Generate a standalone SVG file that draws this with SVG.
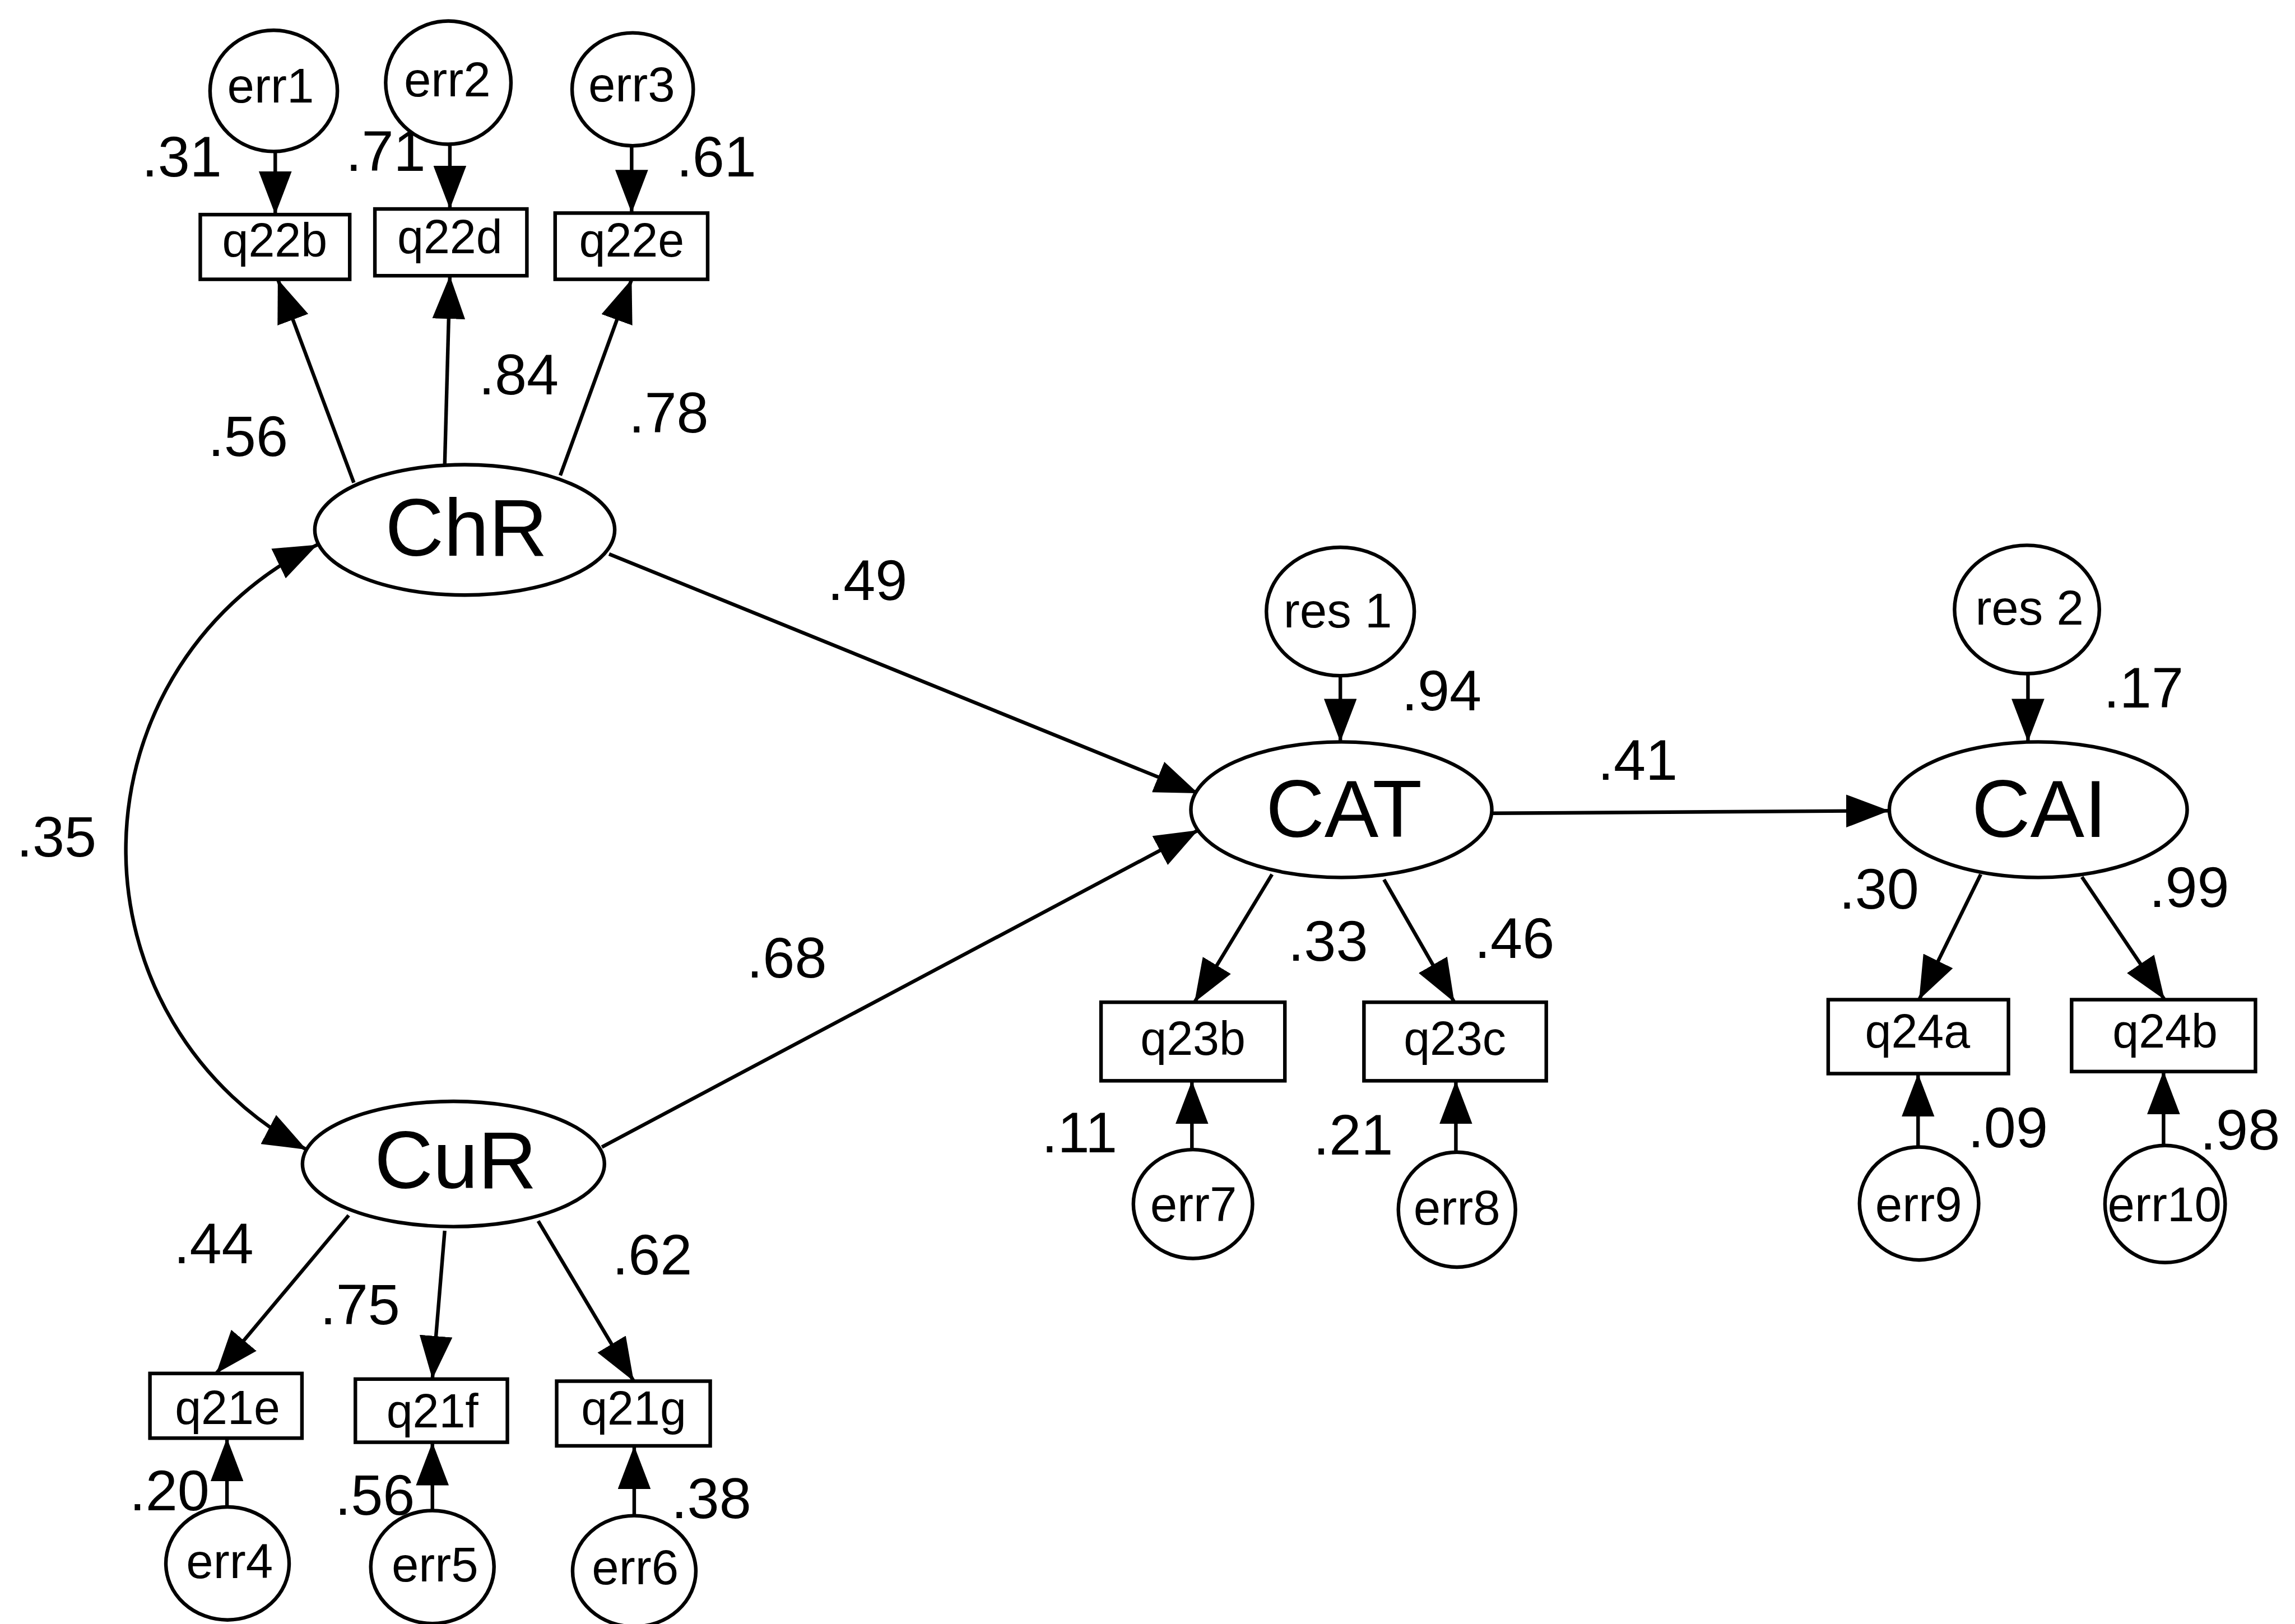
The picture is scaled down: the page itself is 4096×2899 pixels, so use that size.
<svg xmlns="http://www.w3.org/2000/svg" width="4096" height="2899" viewBox="0 0 4096 2899">
<style>
.n{fill:#fff;stroke:#000;stroke-width:7}
.c{fill:none;stroke:#000;stroke-width:7;marker-end:url(#ah)}
.t{font-family:"Liberation Sans",Arial,sans-serif;fill:#000;text-anchor:middle}
.lat{font-size:158px}
.err{font-size:95px}
.box{font-size:92px}
.lab{font-size:112px}
</style>
<defs>
<marker id="ah" markerUnits="userSpaceOnUse" viewBox="0 0 84 64" markerWidth="84" markerHeight="64" refX="84" refY="32" orient="auto-start-reverse">
<path d="M0,0 L84,32 L0,64 z" fill="#000"/>
</marker>
</defs>
<rect width="4096" height="2899" fill="#fff"/>
<g transform="scale(0.91654)">
<g id="connectors">
<line class="c" x1="536" y1="295" x2="536" y2="418"/>
<line class="c" x1="876" y1="281" x2="876" y2="407"/>
<line class="c" x1="1230" y1="281" x2="1230" y2="415"/>
<line class="c" x1="689" y1="940" x2="541" y2="544"/>
<line class="c" x1="866" y1="905" x2="876" y2="537"/>
<line class="c" x1="1091" y1="926" x2="1230" y2="544"/>
<path class="c" style="marker-start:url(#ah)" d="M618,1061 A660,660 0 0,0 597,2239"/>
<line class="c" x1="1186" y1="1079" x2="2333" y2="1545"/>
<line class="c" x1="1172" y1="2234" x2="2333" y2="1617"/>
<line class="c" x1="679" y1="2367" x2="421" y2="2675"/>
<line class="c" x1="866" y1="2397" x2="842" y2="2686"/>
<line class="c" x1="1048" y1="2378" x2="1234" y2="2690"/>
<line class="c" x1="442" y1="2935" x2="442" y2="2801"/>
<line class="c" x1="842" y1="2940" x2="842" y2="2809"/>
<line class="c" x1="1235" y1="2950" x2="1235" y2="2816"/>
<line class="c" x1="2610" y1="1316" x2="2610" y2="1445"/>
<line class="c" x1="2905" y1="1584" x2="3679" y2="1579"/>
<line class="c" x1="2477" y1="1703" x2="2326" y2="1952"/>
<line class="c" x1="2695" y1="1713" x2="2832" y2="1952"/>
<line class="c" x1="2321" y1="2239" x2="2321" y2="2105"/>
<line class="c" x1="2835" y1="2244" x2="2835" y2="2105"/>
<line class="c" x1="3949" y1="1311" x2="3949" y2="1445"/>
<line class="c" x1="3857" y1="1703" x2="3737" y2="1947"/>
<line class="c" x1="4054" y1="1708" x2="4215" y2="1947"/>
<line class="c" x1="3735" y1="2234" x2="3735" y2="2091"/>
<line class="c" x1="4213" y1="2230" x2="4213" y2="2086"/>
</g>
<g id="labels" class="t lab">
<text x="354" y="344">.31</text>
<text x="751" y="333">.71</text>
<text x="1395" y="344">.61</text>
<text x="483" y="888">.56</text>
<text x="1010" y="768">.84</text>
<text x="1302" y="842">.78</text>
<text x="110" y="1668">.35</text>
<text x="1689" y="1168">.49</text>
<text x="1532" y="1904">.68</text>
<text x="416" y="2460">.44</text>
<text x="701" y="2579">.75</text>
<text x="1270" y="2482">.62</text>
<text x="330" y="2942">.20</text>
<text x="730" y="2950">.56</text>
<text x="1385" y="2957">.38</text>
<text x="2807" y="1383">.94</text>
<text x="2586" y="1871">.33</text>
<text x="2949" y="1866">.46</text>
<text x="2102" y="2244">.11</text>
<text x="2635" y="2249">.21</text>
<text x="3189" y="1519">.41</text>
<text x="4174" y="1378">.17</text>
<text x="3659" y="1770">.30</text>
<text x="4263" y="1766">.99</text>
<text x="3910" y="2234">.09</text>
<text x="4362" y="2239">.98</text>
</g>
<g id="err1"><ellipse class="n" cx="533" cy="177" rx="124" ry="118"/><text class="t err" x="527" y="200">err1</text></g>
<g id="err2"><ellipse class="n" cx="873" cy="161" rx="122" ry="120"/><text class="t err" x="871" y="188">err2</text></g>
<g id="err3"><ellipse class="n" cx="1232" cy="174" rx="118" ry="110"/><text class="t err" x="1230" y="198">err3</text></g>
<g id="q22b"><rect class="n" x="390" y="418" width="291" height="126"/><text class="t box" x="535" y="500">q22b</text></g>
<g id="q22d"><rect class="n" x="730" y="407" width="296" height="130"/><text class="t box" x="876" y="493">q22d</text></g>
<g id="q22e"><rect class="n" x="1081" y="415" width="297" height="129"/><text class="t box" x="1230" y="500">q22e</text></g>
<g id="ChR"><ellipse class="n" cx="905" cy="1032" rx="292" ry="127"/><text class="t lat" x="908" y="1082">ChR</text></g>
<g id="CuR"><ellipse class="n" cx="883" cy="2267" rx="294" ry="122"/><text class="t lat" x="887" y="2314">CuR</text></g>
<g id="q21e"><rect class="n" x="292" y="2675" width="296" height="126"/><text class="t box" x="443" y="2773">q21e</text></g>
<g id="q21f"><rect class="n" x="692" y="2686" width="296" height="123"/><text class="t box" x="842" y="2780">q21f</text></g>
<g id="q21g"><rect class="n" x="1084" y="2690" width="299" height="126"/><text class="t box" x="1234" y="2775">q21g</text></g>
<g id="err4"><ellipse class="n" cx="443" cy="3045" rx="120" ry="110"/><text class="t err" x="447" y="3074">err4</text></g>
<g id="err5"><ellipse class="n" cx="842" cy="3052" rx="120" ry="110"/><text class="t err" x="847" y="3080">err5</text></g>
<g id="err6"><ellipse class="n" cx="1235" cy="3060" rx="120" ry="108"/><text class="t err" x="1237" y="3085">err6</text></g>
<g id="res1"><ellipse class="n" cx="2610" cy="1191" rx="144" ry="125"/><text class="t err" x="2605" y="1222">res 1</text></g>
<g id="CAT"><ellipse class="n" cx="2612" cy="1577" rx="293" ry="132"/><text class="t lat" x="2617" y="1630">CAT</text></g>
<g id="q23b"><rect class="n" x="2144" y="1952" width="358" height="153"/><text class="t box" x="2323" y="2055">q23b</text></g>
<g id="q23c"><rect class="n" x="2656" y="1952" width="355" height="153"/><text class="t box" x="2833" y="2055">q23c</text></g>
<g id="err7"><ellipse class="n" cx="2323" cy="2345" rx="116" ry="106"/><text class="t err" x="2324" y="2379">err7</text></g>
<g id="err8"><ellipse class="n" cx="2837" cy="2356" rx="114" ry="112"/><text class="t err" x="2837" y="2385">err8</text></g>
<g id="res2"><ellipse class="n" cx="3947" cy="1187" rx="141" ry="125"/><text class="t err" x="3952" y="1217">res 2</text></g>
<g id="CAI"><ellipse class="n" cx="3969" cy="1577" rx="290" ry="132"/><text class="t lat" x="3971" y="1630">CAI</text></g>
<g id="q24a"><rect class="n" x="3560" y="1947" width="351" height="144"/><text class="t box" x="3734" y="2040">q24a</text></g>
<g id="q24b"><rect class="n" x="4034" y="1947" width="358" height="140"/><text class="t box" x="4216" y="2040">q24b</text></g>
<g id="err9"><ellipse class="n" cx="3737" cy="2344" rx="116" ry="110"/><text class="t err" x="3736" y="2379">err9</text></g>
<g id="err10"><ellipse class="n" cx="4216" cy="2345" rx="117" ry="114"/><text class="t err" x="4215" y="2379">err10</text></g>
</g>
</svg>
